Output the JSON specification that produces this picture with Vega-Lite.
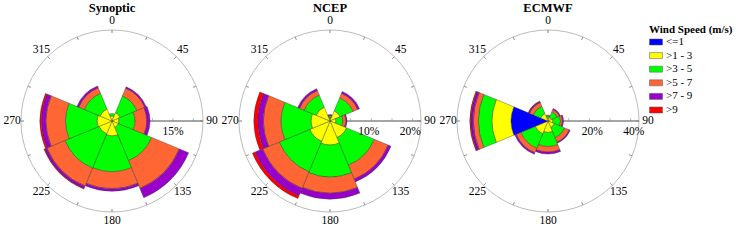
{
  "$schema": "https://vega.github.io/schema/vega-lite/v6.json",
  "padding": {"left": 3, "top": 1, "right": 0, "bottom": 0},
  "background": "white",
  "config": {"view": {"stroke": null}, "font": "Liberation Serif", "legend": {"labelFont": "Liberation Serif", "titleFont": "Liberation Serif"}},
  "bounds": "flush",
  "spacing": 0,
  "resolve": {"scale": {"radius": "independent", "x": "independent", "y": "independent"}},
  "datasets": {
    "dirticks": [{"deg":0},{"deg":22.5},{"deg":45},{"deg":67.5},{"deg":90},{"deg":112.5},{"deg":135},{"deg":157.5},{"deg":180},{"deg":202.5},{"deg":225},{"deg":247.5},{"deg":270},{"deg":292.5},{"deg":315},{"deg":337.5}],
    "dirlabels": [{"deg":0,"label":"0"},{"deg":45,"label":"45"},{"deg":90,"label":"90"},{"deg":135,"label":"135"},{"deg":180,"label":"180"},{"deg":225,"label":"225"},{"deg":270,"label":"270"},{"deg":315,"label":"315"}],
    "one": [{"k":1}],
    "rticks": [
      {"src":"Synoptic","r":5},{"src":"Synoptic","r":10},{"src":"Synoptic","r":15},{"src":"Synoptic","r":20},
      {"src":"NCEP","r":5},{"src":"NCEP","r":10},{"src":"NCEP","r":15},{"src":"NCEP","r":20},
      {"src":"ECMWF","r":10},{"src":"ECMWF","r":20},{"src":"ECMWF","r":30},{"src":"ECMWF","r":40}
    ],
    "rlabels": [
      {"src":"Synoptic","r":15,"label":"15%"},
      {"src":"NCEP","r":10,"label":"10%"},{"src":"NCEP","r":20,"label":"20%"},
      {"src":"ECMWF","r":20,"label":"20%"},{"src":"ECMWF","r":40,"label":"40%"}
    ],
    "rose": [
      {"src":"Synoptic","dir":0,"d0":-22.5,"d1":22.5,"cls":">1 - 3","ord":1,"pct":1.23},
      {"src":"Synoptic","dir":0,"d0":-22.5,"d1":22.5,"cls":">3 - 5","ord":2,"pct":0.62},
      {"src":"Synoptic","dir":45,"d0":22.5,"d1":67.5,"cls":">1 - 3","ord":1,"pct":2.22},
      {"src":"Synoptic","dir":45,"d0":22.5,"d1":67.5,"cls":">3 - 5","ord":2,"pct":4.43},
      {"src":"Synoptic","dir":45,"d0":22.5,"d1":67.5,"cls":">5 - 7","ord":3,"pct":2.09},
      {"src":"Synoptic","dir":45,"d0":22.5,"d1":67.5,"cls":">7 - 9","ord":4,"pct":0.37},
      {"src":"Synoptic","dir":90,"d0":67.5,"d1":112.5,"cls":">1 - 3","ord":1,"pct":1.72},
      {"src":"Synoptic","dir":90,"d0":67.5,"d1":112.5,"cls":">3 - 5","ord":2,"pct":3.94},
      {"src":"Synoptic","dir":90,"d0":67.5,"d1":112.5,"cls":">5 - 7","ord":3,"pct":2.88},
      {"src":"Synoptic","dir":90,"d0":67.5,"d1":112.5,"cls":">7 - 9","ord":4,"pct":0.81},
      {"src":"Synoptic","dir":135,"d0":112.5,"d1":157.5,"cls":">1 - 3","ord":1,"pct":1.72},
      {"src":"Synoptic","dir":135,"d0":112.5,"d1":157.5,"cls":">3 - 5","ord":2,"pct":8.86},
      {"src":"Synoptic","dir":135,"d0":112.5,"d1":157.5,"cls":">5 - 7","ord":3,"pct":7.38},
      {"src":"Synoptic","dir":135,"d0":112.5,"d1":157.5,"cls":">7 - 9","ord":4,"pct":2.46},
      {"src":"Synoptic","dir":180,"d0":157.5,"d1":202.5,"cls":">1 - 3","ord":1,"pct":3.69},
      {"src":"Synoptic","dir":180,"d0":157.5,"d1":202.5,"cls":">3 - 5","ord":2,"pct":8.79},
      {"src":"Synoptic","dir":180,"d0":157.5,"d1":202.5,"cls":">5 - 7","ord":3,"pct":4.14},
      {"src":"Synoptic","dir":180,"d0":157.5,"d1":202.5,"cls":">7 - 9","ord":4,"pct":0.62},
      {"src":"Synoptic","dir":225,"d0":202.5,"d1":247.5,"cls":">1 - 3","ord":1,"pct":3.45},
      {"src":"Synoptic","dir":225,"d0":202.5,"d1":247.5,"cls":">3 - 5","ord":2,"pct":9.11},
      {"src":"Synoptic","dir":225,"d0":202.5,"d1":247.5,"cls":">5 - 7","ord":3,"pct":4.80},
      {"src":"Synoptic","dir":225,"d0":202.5,"d1":247.5,"cls":">7 - 9","ord":4,"pct":0.62},
      {"src":"Synoptic","dir":225,"d0":202.5,"d1":247.5,"cls":">9","ord":5,"pct":0.17},
      {"src":"Synoptic","dir":270,"d0":247.5,"d1":292.5,"cls":">1 - 3","ord":1,"pct":3.69},
      {"src":"Synoptic","dir":270,"d0":247.5,"d1":292.5,"cls":">3 - 5","ord":2,"pct":7.75},
      {"src":"Synoptic","dir":270,"d0":247.5,"d1":292.5,"cls":">5 - 7","ord":3,"pct":4.80},
      {"src":"Synoptic","dir":270,"d0":247.5,"d1":292.5,"cls":">7 - 9","ord":4,"pct":1.11},
      {"src":"Synoptic","dir":270,"d0":247.5,"d1":292.5,"cls":">9","ord":5,"pct":0.37},
      {"src":"Synoptic","dir":315,"d0":292.5,"d1":337.5,"cls":">1 - 3","ord":1,"pct":3.20},
      {"src":"Synoptic","dir":315,"d0":292.5,"d1":337.5,"cls":">3 - 5","ord":2,"pct":4.18},
      {"src":"Synoptic","dir":315,"d0":292.5,"d1":337.5,"cls":">5 - 7","ord":3,"pct":1.48},
      {"src":"Synoptic","dir":315,"d0":292.5,"d1":337.5,"cls":">7 - 9","ord":4,"pct":0.49},

      {"src":"NCEP","dir":0,"d0":-22.5,"d1":22.5,"cls":">1 - 3","ord":1,"pct":0.48},
      {"src":"NCEP","dir":0,"d0":-22.5,"d1":22.5,"cls":">3 - 5","ord":2,"pct":0.48},
      {"src":"NCEP","dir":0,"d0":-22.5,"d1":22.5,"cls":">5 - 7","ord":3,"pct":0.36},
      {"src":"NCEP","dir":0,"d0":-22.5,"d1":22.5,"cls":">7 - 9","ord":4,"pct":0.24},
      {"src":"NCEP","dir":45,"d0":22.5,"d1":67.5,"cls":">1 - 3","ord":1,"pct":2.66},
      {"src":"NCEP","dir":45,"d0":22.5,"d1":67.5,"cls":">3 - 5","ord":2,"pct":3.38},
      {"src":"NCEP","dir":45,"d0":22.5,"d1":67.5,"cls":">5 - 7","ord":3,"pct":1.21},
      {"src":"NCEP","dir":45,"d0":22.5,"d1":67.5,"cls":">7 - 9","ord":4,"pct":0.48},
      {"src":"NCEP","dir":90,"d0":67.5,"d1":112.5,"cls":">1 - 3","ord":1,"pct":1.45},
      {"src":"NCEP","dir":90,"d0":67.5,"d1":112.5,"cls":">3 - 5","ord":2,"pct":1.69},
      {"src":"NCEP","dir":90,"d0":67.5,"d1":112.5,"cls":">5 - 7","ord":3,"pct":0.73},
      {"src":"NCEP","dir":90,"d0":67.5,"d1":112.5,"cls":">7 - 9","ord":4,"pct":0.24},
      {"src":"NCEP","dir":135,"d0":112.5,"d1":157.5,"cls":">1 - 3","ord":1,"pct":4.35},
      {"src":"NCEP","dir":135,"d0":112.5,"d1":157.5,"cls":">3 - 5","ord":2,"pct":7.25},
      {"src":"NCEP","dir":135,"d0":112.5,"d1":157.5,"cls":">5 - 7","ord":3,"pct":3.63},
      {"src":"NCEP","dir":135,"d0":112.5,"d1":157.5,"cls":">7 - 9","ord":4,"pct":0.73},
      {"src":"NCEP","dir":180,"d0":157.5,"d1":202.5,"cls":">1 - 3","ord":1,"pct":5.80},
      {"src":"NCEP","dir":180,"d0":157.5,"d1":202.5,"cls":">3 - 5","ord":2,"pct":7.74},
      {"src":"NCEP","dir":180,"d0":157.5,"d1":202.5,"cls":">5 - 7","ord":3,"pct":3.87},
      {"src":"NCEP","dir":180,"d0":157.5,"d1":202.5,"cls":">7 - 9","ord":4,"pct":1.45},
      {"src":"NCEP","dir":225,"d0":202.5,"d1":247.5,"cls":">1 - 3","ord":1,"pct":5.32},
      {"src":"NCEP","dir":225,"d0":202.5,"d1":247.5,"cls":">3 - 5","ord":2,"pct":7.98},
      {"src":"NCEP","dir":225,"d0":202.5,"d1":247.5,"cls":">5 - 7","ord":3,"pct":4.35},
      {"src":"NCEP","dir":225,"d0":202.5,"d1":247.5,"cls":">7 - 9","ord":4,"pct":1.93},
      {"src":"NCEP","dir":225,"d0":202.5,"d1":247.5,"cls":">9","ord":5,"pct":0.73},
      {"src":"NCEP","dir":270,"d0":247.5,"d1":292.5,"cls":">1 - 3","ord":1,"pct":4.59},
      {"src":"NCEP","dir":270,"d0":247.5,"d1":292.5,"cls":">3 - 5","ord":2,"pct":7.25},
      {"src":"NCEP","dir":270,"d0":247.5,"d1":292.5,"cls":">5 - 7","ord":3,"pct":4.23},
      {"src":"NCEP","dir":270,"d0":247.5,"d1":292.5,"cls":">7 - 9","ord":4,"pct":1.33},
      {"src":"NCEP","dir":270,"d0":247.5,"d1":292.5,"cls":">9","ord":5,"pct":0.97},
      {"src":"NCEP","dir":315,"d0":292.5,"d1":337.5,"cls":">1 - 3","ord":1,"pct":3.63},
      {"src":"NCEP","dir":315,"d0":292.5,"d1":337.5,"cls":">3 - 5","ord":2,"pct":3.14},
      {"src":"NCEP","dir":315,"d0":292.5,"d1":337.5,"cls":">5 - 7","ord":3,"pct":1.21},
      {"src":"NCEP","dir":315,"d0":292.5,"d1":337.5,"cls":">7 - 9","ord":4,"pct":0.48},

      {"src":"ECMWF","dir":0,"d0":-22.5,"d1":22.5,"cls":">1 - 3","ord":1,"pct":1.45},
      {"src":"ECMWF","dir":0,"d0":-22.5,"d1":22.5,"cls":">3 - 5","ord":2,"pct":0.97},
      {"src":"ECMWF","dir":0,"d0":-22.5,"d1":22.5,"cls":">5 - 7","ord":3,"pct":0.48},
      {"src":"ECMWF","dir":45,"d0":22.5,"d1":67.5,"cls":">1 - 3","ord":1,"pct":1.93},
      {"src":"ECMWF","dir":45,"d0":22.5,"d1":67.5,"cls":">3 - 5","ord":2,"pct":2.90},
      {"src":"ECMWF","dir":45,"d0":22.5,"d1":67.5,"cls":">5 - 7","ord":3,"pct":1.21},
      {"src":"ECMWF","dir":45,"d0":22.5,"d1":67.5,"cls":">7 - 9","ord":4,"pct":0.48},
      {"src":"ECMWF","dir":90,"d0":67.5,"d1":112.5,"cls":">1 - 3","ord":1,"pct":2.42},
      {"src":"ECMWF","dir":90,"d0":67.5,"d1":112.5,"cls":">3 - 5","ord":2,"pct":3.63},
      {"src":"ECMWF","dir":90,"d0":67.5,"d1":112.5,"cls":">5 - 7","ord":3,"pct":0.97},
      {"src":"ECMWF","dir":90,"d0":67.5,"d1":112.5,"cls":">7 - 9","ord":4,"pct":0.48},
      {"src":"ECMWF","dir":135,"d0":112.5,"d1":157.5,"cls":">1 - 3","ord":1,"pct":3.38},
      {"src":"ECMWF","dir":135,"d0":112.5,"d1":157.5,"cls":">3 - 5","ord":2,"pct":5.32},
      {"src":"ECMWF","dir":135,"d0":112.5,"d1":157.5,"cls":">5 - 7","ord":3,"pct":2.42},
      {"src":"ECMWF","dir":135,"d0":112.5,"d1":157.5,"cls":">7 - 9","ord":4,"pct":0.48},
      {"src":"ECMWF","dir":180,"d0":157.5,"d1":202.5,"cls":">1 - 3","ord":1,"pct":5.56},
      {"src":"ECMWF","dir":180,"d0":157.5,"d1":202.5,"cls":">3 - 5","ord":2,"pct":6.77},
      {"src":"ECMWF","dir":180,"d0":157.5,"d1":202.5,"cls":">5 - 7","ord":3,"pct":2.66},
      {"src":"ECMWF","dir":180,"d0":157.5,"d1":202.5,"cls":">7 - 9","ord":4,"pct":0.97},
      {"src":"ECMWF","dir":225,"d0":202.5,"d1":247.5,"cls":">1 - 3","ord":1,"pct":6.77},
      {"src":"ECMWF","dir":225,"d0":202.5,"d1":247.5,"cls":">3 - 5","ord":2,"pct":7.50},
      {"src":"ECMWF","dir":225,"d0":202.5,"d1":247.5,"cls":">5 - 7","ord":3,"pct":2.42},
      {"src":"ECMWF","dir":225,"d0":202.5,"d1":247.5,"cls":">7 - 9","ord":4,"pct":0.73},
      {"src":"ECMWF","dir":270,"d0":247.5,"d1":292.5,"cls":"<=1","ord":0,"pct":17.89},
      {"src":"ECMWF","dir":270,"d0":247.5,"d1":292.5,"cls":">1 - 3","ord":1,"pct":9.19},
      {"src":"ECMWF","dir":270,"d0":247.5,"d1":292.5,"cls":">3 - 5","ord":2,"pct":6.53},
      {"src":"ECMWF","dir":270,"d0":247.5,"d1":292.5,"cls":">5 - 7","ord":3,"pct":2.42},
      {"src":"ECMWF","dir":270,"d0":247.5,"d1":292.5,"cls":">7 - 9","ord":4,"pct":1.21},
      {"src":"ECMWF","dir":270,"d0":247.5,"d1":292.5,"cls":">9","ord":5,"pct":0.48},
      {"src":"ECMWF","dir":315,"d0":292.5,"d1":337.5,"cls":">1 - 3","ord":1,"pct":3.87},
      {"src":"ECMWF","dir":315,"d0":292.5,"d1":337.5,"cls":">3 - 5","ord":2,"pct":3.87},
      {"src":"ECMWF","dir":315,"d0":292.5,"d1":337.5,"cls":">5 - 7","ord":3,"pct":1.93},
      {"src":"ECMWF","dir":315,"d0":292.5,"d1":337.5,"cls":">7 - 9","ord":4,"pct":0.48},
      {"src":"ECMWF","dir":315,"d0":292.5,"d1":337.5,"cls":">9","ord":5,"pct":0.24}
    ]
  },
  "hconcat": [
    {
      "width": 218, "height": 210,
      "title": {"text": "Synoptic", "font": "Liberation Serif", "fontSize": 12.5, "fontWeight": "bold", "color": "black", "offset": 1},
      "layer": [
        {"data": {"name": "one"}, "mark": {"type": "arc", "filled": false, "stroke": "#aaaaaa", "strokeWidth": 0.8},
         "encoding": {"theta": {"datum": 0, "type": "quantitative", "scale": {"type": "linear", "domain": [0, 360], "range": [0, 6.283185307179586], "zero": false, "nice": false}}, "theta2": {"datum": 360},
                      "radius": {"datum": 22.4, "type": "quantitative", "scale": {"type": "linear", "domain": [0, 22.4], "range": [0, 91], "nice": false}}}},
        {"data": {"name": "dirticks"}, "mark": {"type": "arc", "filled": false, "stroke": "#999999", "strokeWidth": 0.8, "radius2Offset": -3},
         "encoding": {"theta": {"field": "deg", "type": "quantitative", "stack": null}, "theta2": {"field": "deg"}, "radius": {"datum": 22.4, "type": "quantitative"}, "radius2": {"datum": 22.4}}},
        {"data": {"name": "one"}, "mark": {"type": "arc", "filled": false, "stroke": "#888888", "strokeWidth": 1},
         "encoding": {"theta": {"datum": 90, "type": "quantitative"}, "theta2": {"datum": 90}, "radius": {"datum": 22.4, "type": "quantitative"}, "radius2": {"datum": 0}}},
        {"data": {"name": "rticks"}, "transform": [{"filter": "datum.src === 'Synoptic'"}],
         "mark": {"type": "tick", "orient": "vertical", "size": 3, "thickness": 0.8, "color": "#888888", "yOffset": -1.5},
         "encoding": {"x": {"field": "r", "type": "quantitative", "scale": {"domain": [-26.831, 26.831], "nice": false, "zero": false}, "axis": null},
                      "y": {"datum": 0, "type": "quantitative", "scale": {"domain": [-25.846, 25.846], "nice": false, "zero": false}, "axis": null}}},
        {"data": {"name": "rose"}, "transform": [{"filter": "datum.src === 'Synoptic'"}, {"stack": "pct", "groupby": ["dir"], "sort": [{"field": "ord", "order": "ascending"}], "as": ["r0", "r1"]}],
         "mark": {"type": "arc", "stroke": "#333333", "strokeWidth": 0.4},
         "encoding": {"theta": {"field": "d0", "type": "quantitative", "stack": null}, "theta2": {"field": "d1"},
                      "radius": {"field": "r1", "type": "quantitative"}, "radius2": {"field": "r0"},
                      "color": {"field": "cls", "type": "nominal",
                                "scale": {"domain": ["<=1", ">1 - 3", ">3 - 5", ">5 - 7", ">7 - 9", ">9"], "range": ["#0000FF", "#FFFF00", "#00FF00", "#FF6633", "#9900CC", "#FF0000"]},
                                "legend": {"title": "Wind Speed (m/s)", "orient": "none", "legendX": 646, "legendY": 8, "titleFont": "Liberation Serif", "titleFontSize": 11, "titleFontWeight": "bold", "titleColor": "black", "labelFont": "Liberation Serif", "labelFontSize": 11, "labelColor": "black", "symbolType": "M-1,-0.46L1,-0.46L1,0.46L-1,0.46Z", "symbolSize": 169, "symbolStrokeColor": "#555555", "symbolStrokeWidth": 0.5, "symbolOpacity": 1, "labelOffset": 3, "rowPadding": 1.6, "titlePadding": 0}}}},
        {"data": {"name": "dirlabels"}, "mark": {"type": "text", "radiusOffset": 9, "font": "Liberation Serif", "fontSize": 11.5, "align": "center", "baseline": "middle", "color": "black"},
         "encoding": {"theta": {"field": "deg", "type": "quantitative", "stack": null}, "radius": {"datum": 22.4, "type": "quantitative"}, "text": {"field": "label"}}},
        {"data": {"name": "rlabels"}, "transform": [{"filter": "datum.src === 'Synoptic'"}],
         "mark": {"type": "text", "dy": 11, "dx": 0, "font": "Liberation Serif", "fontSize": 11.5, "align": "center", "baseline": "middle", "color": "black"},
         "encoding": {"theta": {"datum": 90, "type": "quantitative"}, "radius": {"field": "r", "type": "quantitative"}, "text": {"field": "label"}}}
      ]
    },
    {
      "width": 218, "height": 210,
      "title": {"text": "NCEP", "font": "Liberation Serif", "fontSize": 12.5, "fontWeight": "bold", "color": "black", "offset": 1},
      "layer": [
        {"data": {"name": "one"}, "mark": {"type": "arc", "filled": false, "stroke": "#aaaaaa", "strokeWidth": 0.8},
         "encoding": {"theta": {"datum": 0, "type": "quantitative", "scale": {"type": "linear", "domain": [0, 360], "range": [0, 6.283185307179586], "zero": false, "nice": false}}, "theta2": {"datum": 360},
                      "radius": {"datum": 22, "type": "quantitative", "scale": {"type": "linear", "domain": [0, 22], "range": [0, 91], "nice": false}}}},
        {"data": {"name": "dirticks"}, "mark": {"type": "arc", "filled": false, "stroke": "#999999", "strokeWidth": 0.8, "radius2Offset": -3},
         "encoding": {"theta": {"field": "deg", "type": "quantitative", "stack": null}, "theta2": {"field": "deg"}, "radius": {"datum": 22, "type": "quantitative"}, "radius2": {"datum": 22}}},
        {"data": {"name": "one"}, "mark": {"type": "arc", "filled": false, "stroke": "#888888", "strokeWidth": 1},
         "encoding": {"theta": {"datum": 90, "type": "quantitative"}, "theta2": {"datum": 90}, "radius": {"datum": 22, "type": "quantitative"}, "radius2": {"datum": 0}}},
        {"data": {"name": "rticks"}, "transform": [{"filter": "datum.src === 'NCEP'"}],
         "mark": {"type": "tick", "orient": "vertical", "size": 3, "thickness": 0.8, "color": "#888888", "yOffset": -1.5},
         "encoding": {"x": {"field": "r", "type": "quantitative", "scale": {"domain": [-26.352, 26.352], "nice": false, "zero": false}, "axis": null},
                      "y": {"datum": 0, "type": "quantitative", "scale": {"domain": [-25.385, 25.385], "nice": false, "zero": false}, "axis": null}}},
        {"data": {"name": "rose"}, "transform": [{"filter": "datum.src === 'NCEP'"}, {"stack": "pct", "groupby": ["dir"], "sort": [{"field": "ord", "order": "ascending"}], "as": ["r0", "r1"]}],
         "mark": {"type": "arc", "stroke": "#333333", "strokeWidth": 0.4},
         "encoding": {"theta": {"field": "d0", "type": "quantitative", "stack": null}, "theta2": {"field": "d1"},
                      "radius": {"field": "r1", "type": "quantitative"}, "radius2": {"field": "r0"},
                      "color": {"field": "cls", "type": "nominal",
                                "scale": {"domain": ["<=1", ">1 - 3", ">3 - 5", ">5 - 7", ">7 - 9", ">9"], "range": ["#0000FF", "#FFFF00", "#00FF00", "#FF6633", "#9900CC", "#FF0000"]},
                                "legend": {"title": "Wind Speed (m/s)", "orient": "none", "legendX": 646, "legendY": 8, "titleFont": "Liberation Serif", "titleFontSize": 11, "titleFontWeight": "bold", "titleColor": "black", "labelFont": "Liberation Serif", "labelFontSize": 11, "labelColor": "black", "symbolType": "M-1,-0.46L1,-0.46L1,0.46L-1,0.46Z", "symbolSize": 169, "symbolStrokeColor": "#555555", "symbolStrokeWidth": 0.5, "symbolOpacity": 1, "labelOffset": 3, "rowPadding": 1.6, "titlePadding": 0}}}},
        {"data": {"name": "dirlabels"}, "mark": {"type": "text", "radiusOffset": 9, "font": "Liberation Serif", "fontSize": 11.5, "align": "center", "baseline": "middle", "color": "black"},
         "encoding": {"theta": {"field": "deg", "type": "quantitative", "stack": null}, "radius": {"datum": 22, "type": "quantitative"}, "text": {"field": "label"}}},
        {"data": {"name": "rlabels"}, "transform": [{"filter": "datum.src === 'NCEP'"}],
         "mark": {"type": "text", "dy": 11, "dx": -2.5, "font": "Liberation Serif", "fontSize": 11.5, "align": "center", "baseline": "middle", "color": "black"},
         "encoding": {"theta": {"datum": 90, "type": "quantitative"}, "radius": {"field": "r", "type": "quantitative"}, "text": {"field": "label"}}}
      ]
    },
    {
      "width": 218, "height": 210,
      "title": {"text": "ECMWF", "font": "Liberation Serif", "fontSize": 12.5, "fontWeight": "bold", "color": "black", "offset": 1},
      "layer": [
        {"data": {"name": "one"}, "mark": {"type": "arc", "filled": false, "stroke": "#aaaaaa", "strokeWidth": 0.8},
         "encoding": {"theta": {"datum": 0, "type": "quantitative", "scale": {"type": "linear", "domain": [0, 360], "range": [0, 6.283185307179586], "zero": false, "nice": false}}, "theta2": {"datum": 360},
                      "radius": {"datum": 44, "type": "quantitative", "scale": {"type": "linear", "domain": [0, 44], "range": [0, 91], "nice": false}}}},
        {"data": {"name": "dirticks"}, "mark": {"type": "arc", "filled": false, "stroke": "#999999", "strokeWidth": 0.8, "radius2Offset": -3},
         "encoding": {"theta": {"field": "deg", "type": "quantitative", "stack": null}, "theta2": {"field": "deg"}, "radius": {"datum": 44, "type": "quantitative"}, "radius2": {"datum": 44}}},
        {"data": {"name": "one"}, "mark": {"type": "arc", "filled": false, "stroke": "#888888", "strokeWidth": 1},
         "encoding": {"theta": {"datum": 90, "type": "quantitative"}, "theta2": {"datum": 90}, "radius": {"datum": 44, "type": "quantitative"}, "radius2": {"datum": 0}}},
        {"data": {"name": "rticks"}, "transform": [{"filter": "datum.src === 'ECMWF'"}],
         "mark": {"type": "tick", "orient": "vertical", "size": 3, "thickness": 0.8, "color": "#888888", "yOffset": -1.5},
         "encoding": {"x": {"field": "r", "type": "quantitative", "scale": {"domain": [-52.703, 52.703], "nice": false, "zero": false}, "axis": null},
                      "y": {"datum": 0, "type": "quantitative", "scale": {"domain": [-50.769, 50.769], "nice": false, "zero": false}, "axis": null}}},
        {"data": {"name": "rose"}, "transform": [{"filter": "datum.src === 'ECMWF'"}, {"stack": "pct", "groupby": ["dir"], "sort": [{"field": "ord", "order": "ascending"}], "as": ["r0", "r1"]}],
         "mark": {"type": "arc", "stroke": "#333333", "strokeWidth": 0.4},
         "encoding": {"theta": {"field": "d0", "type": "quantitative", "stack": null}, "theta2": {"field": "d1"},
                      "radius": {"field": "r1", "type": "quantitative"}, "radius2": {"field": "r0"},
                      "color": {"field": "cls", "type": "nominal",
                                "scale": {"domain": ["<=1", ">1 - 3", ">3 - 5", ">5 - 7", ">7 - 9", ">9"], "range": ["#0000FF", "#FFFF00", "#00FF00", "#FF6633", "#9900CC", "#FF0000"]},
                                "legend": {"title": "Wind Speed (m/s)", "orient": "none", "legendX": 646, "legendY": 8, "titleFont": "Liberation Serif", "titleFontSize": 11, "titleFontWeight": "bold", "titleColor": "black", "labelFont": "Liberation Serif", "labelFontSize": 11, "labelColor": "black", "symbolType": "M-1,-0.46L1,-0.46L1,0.46L-1,0.46Z", "symbolSize": 169, "symbolStrokeColor": "#555555", "symbolStrokeWidth": 0.5, "symbolOpacity": 1, "labelOffset": 3, "rowPadding": 1.6, "titlePadding": 0}}}},
        {"data": {"name": "dirlabels"}, "mark": {"type": "text", "radiusOffset": 9, "font": "Liberation Serif", "fontSize": 11.5, "align": "center", "baseline": "middle", "color": "black"},
         "encoding": {"theta": {"field": "deg", "type": "quantitative", "stack": null}, "radius": {"datum": 44, "type": "quantitative"}, "text": {"field": "label"}}},
        {"data": {"name": "rlabels"}, "transform": [{"filter": "datum.src === 'ECMWF'"}],
         "mark": {"type": "text", "dy": 11, "dx": 3, "font": "Liberation Serif", "fontSize": 11.5, "align": "center", "baseline": "middle", "color": "black"},
         "encoding": {"theta": {"datum": 90, "type": "quantitative"}, "radius": {"field": "r", "type": "quantitative"}, "text": {"field": "label"}}}
      ]
    }
  ]
}
